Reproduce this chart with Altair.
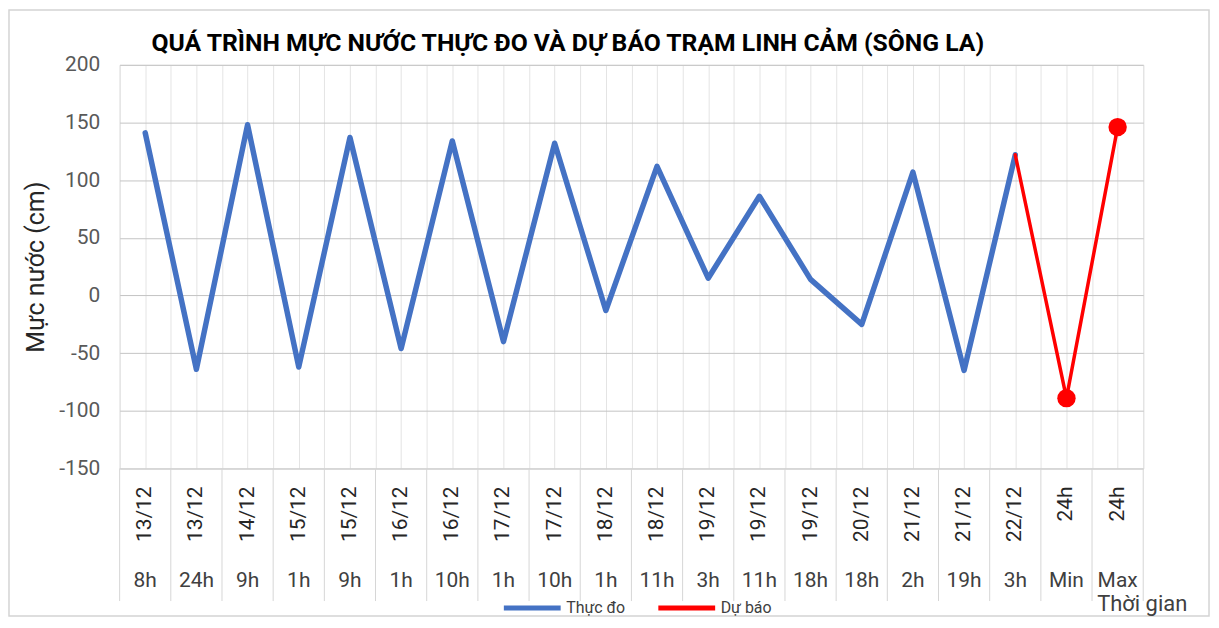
import altair as alt
import pandas as pd

# ---- data ----
title_text = "QUÁ TRÌNH MỰC NƯỚC THỰC ĐO VÀ DỰ BÁO TRẠM LINH CẢM (SÔNG LA)"
x_title = "Thời gian"
y_title = "Mực nước (cm)"
dates = ["13/12", "13/12", "14/12", "15/12", "15/12", "16/12", "16/12", "17/12", "17/12",
         "18/12", "18/12", "19/12", "19/12", "19/12", "20/12", "21/12", "21/12", "22/12",
         "24h", "24h"]
hours = ["8h", "24h", "9h", "1h", "9h", "1h", "10h", "1h", "10h", "1h", "11h", "3h",
         "11h", "18h", "18h", "2h", "19h", "3h", "Min", "Max"]
observed = [141, -64, 148, -62, 137, -46, 134, -40, 132, -13, 112, 15, 86, 14, -25, 107, -65, 122]
forecast = [122, -89, 146]          # 22/12 3h, Min 24h, Max 24h
series_names = ["Thực đo", "Dự báo"]
y_ticks = [-150, -100, -50, 0, 50, 100, 150, 200]

n = len(dates)
obs_df = pd.DataFrame({"idx": list(range(len(observed))), "value": observed,
                       "series": series_names[0]})
fc_start = len(observed) - 1
fc_df = pd.DataFrame({"idx": list(range(fc_start, fc_start + len(forecast))),
                      "value": forecast, "series": series_names[1]})
pt_df = fc_df.iloc[1:]
lab_df = pd.DataFrame({"idx": list(range(n)), "date": dates, "hour": hours})
sep_df = pd.DataFrame({"pos": [i - 0.5 for i in range(n + 1)]})
title_df = pd.DataFrame({"t": [title_text], "xt": [x_title]})

W, H = 1027, 405
FONT = "Roboto"
xscale = alt.Scale(domain=[-0.5, n - 0.5], nice=False, zero=False)
yscale = alt.Scale(domain=[-150, 200], nice=False)

color = alt.Color(
    "series:N",
    scale=alt.Scale(domain=series_names, range=["#4472C4", "#FF0000"]),
    legend=alt.Legend(orient="none", legendX=383, legendY=514, direction="horizontal",
                      title=None, symbolType="stroke", symbolSize=3249,
                      symbolStrokeWidth=5, labelFontSize=16, labelFont=FONT,
                      labelColor="#404040", columnPadding=22, labelOffset=3),
)

x_axis = alt.Axis(values=[i * 0.5 - 0.5 for i in range(2 * n + 1)], labels=False,
                  ticks=False, domain=False, grid=True, gridColor="#e4e4e4", title=None)
y_axis = alt.Axis(values=y_ticks, title=y_title, grid=True, gridColor="#c4c4c4",
                  ticks=False, domain=False, labelFontSize=21, labelFont=FONT,
                  labelColor="#595959", labelPadding=20, labelExpr="datum.value + ''",
                  titleFontSize=25, titleFont=FONT, titleFontWeight="normal",
                  titleColor="#262626", titlePadding=10)

X = alt.X("idx:Q", scale=xscale, axis=x_axis)
Y = alt.Y("value:Q", scale=yscale, axis=y_axis)

frame = alt.Chart(title_df).mark_rect(
    fillOpacity=0, stroke="#d4d4d4", strokeWidth=1.5).encode(
    x=alt.value(-111), x2=alt.value(W + 66), y=alt.value(-55), y2=alt.value(H + 148),
)
title = alt.Chart(title_df).mark_text(align="left", baseline="alphabetic", fontSize=24.8,
                                      font=FONT, fontWeight="bold", color="#000000").encode(
    x=alt.value(32), y=alt.value(-14), text="t:N",
)
xtitle = alt.Chart(title_df).mark_text(align="center", baseline="middle", fontSize=22,
                                       font=FONT, color="#404040").encode(
    x=alt.value(W - 1), y=alt.value(H + 136), text="xt:N",
)
obs = alt.Chart(obs_df).mark_line(strokeWidth=5.5, strokeCap="round", strokeJoin="round").encode(
    x=X, y=Y, color=color,
)
fc = alt.Chart(fc_df).mark_line(strokeWidth=3.5, strokeCap="round", strokeJoin="round").encode(
    x=X, y=Y, color=color,
)
pts = alt.Chart(pt_df).mark_circle(size=340, opacity=1).encode(
    x=X, y=Y, color=alt.value("#FF0000"),
)
seps = alt.Chart(sep_df).mark_rule(color="#d6d6d6", strokeWidth=1).encode(
    x=alt.X("pos:Q", scale=xscale, axis=x_axis),
    y=alt.value(H), y2=alt.value(H + 133),
)
date_txt = alt.Chart(lab_df).mark_text(angle=270, align="right", baseline="middle",
                                       fontSize=21, font=FONT, color="#262626").encode(
    x=X, y=alt.value(H + 18), text="date:N",
)
hour_txt = alt.Chart(lab_df).mark_text(align="center", baseline="middle",
                                       fontSize=21, font=FONT, color="#404040").encode(
    x=X, y=alt.value(H + 113), text="hour:N",
)

chart = alt.layer(frame, title, xtitle, seps, obs, fc, pts, date_txt, hour_txt).properties(
    width=W, height=H,
    autosize=alt.AutoSizeParams(type="none"),
    padding={"left": 112, "top": 56, "right": 68, "bottom": 150},
).configure_view(stroke=None).configure(background="white")

chart.save("out.html", embed_options={"renderer": "svg", "actions": False})
